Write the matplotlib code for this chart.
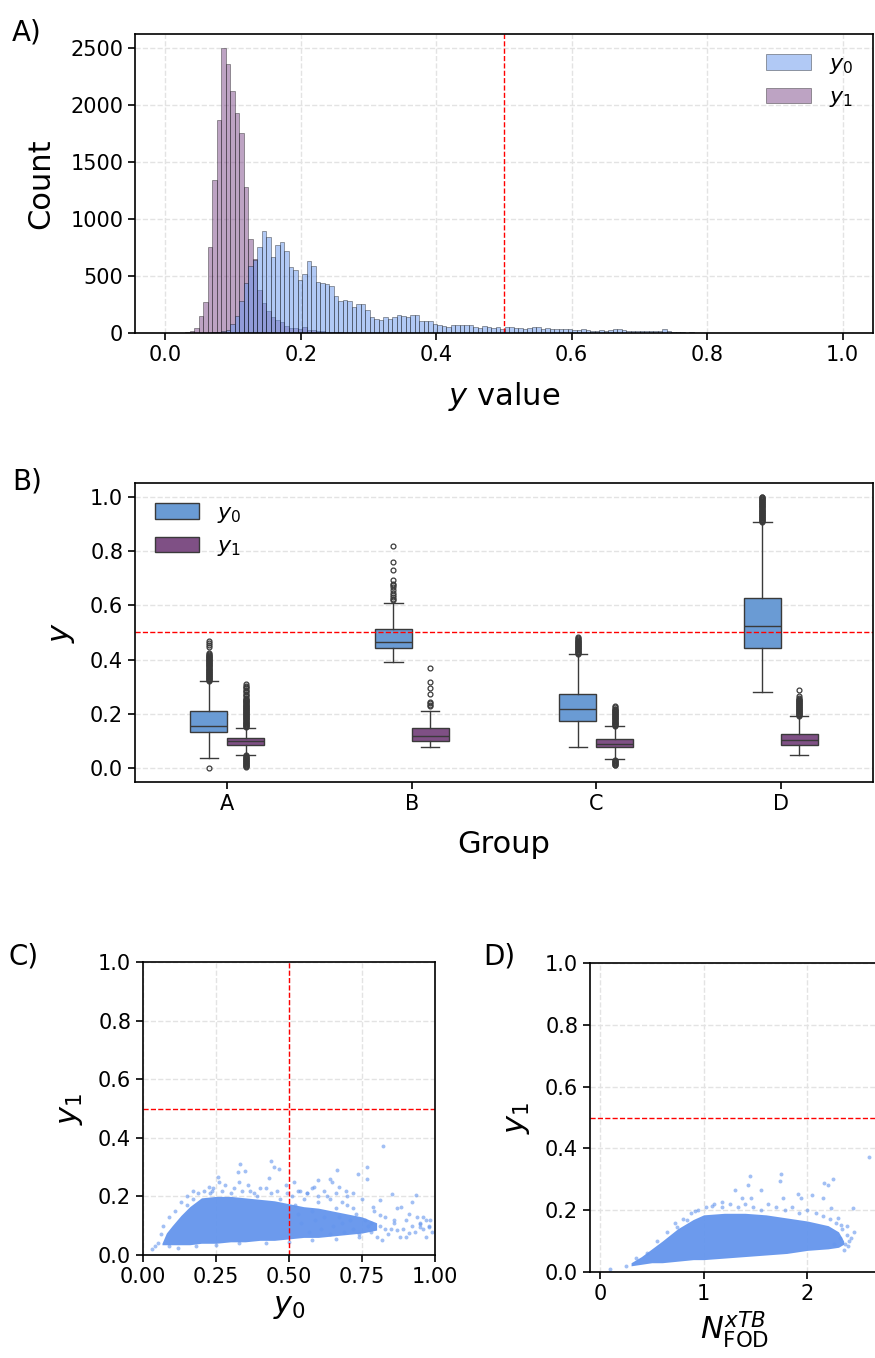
import numpy as np
import matplotlib
matplotlib.use("Agg")
import matplotlib.pyplot as plt
from matplotlib.patches import Patch

# ---------------------------------------------------------------------------
# Panel A: histogram counts (150 common bins)
bin_start = 0.0025
bin_width = 0.00665
y0_counts = [
    0, 0, 0, 0, 0, 0, 0, 0, 0, 0,
    5, 10, 15, 25, 75, 150, 285, 440, 590, 640,
    756, 897, 844, 668, 771, 803, 718, 580, 551, 469,
    522, 633, 586, 452, 440, 430, 410, 325, 279, 287,
    279, 229, 252, 252, 200, 141, 120, 118, 141, 123,
    141, 162, 150, 144, 162, 162, 103, 109, 109, 82,
    70, 62, 53, 67, 67, 67, 73, 67, 53, 47,
    62, 53, 47, 53, 32, 53, 53, 44, 44, 38,
    41, 50, 53, 38, 41, 38, 38, 35, 32, 38,
    23, 26, 32, 23, 20, 18, 22, 20, 25, 32,
    35, 22, 15, 14, 15, 14, 15, 16, 18, 20,
    32, 14, 10, 6, 8, 3, 6, 2, 4, 2,
    3, 1, 2, 0, 1, 2, 0, 1, 2, 1,
    0, 0, 1, 0, 0, 1, 0, 1, 2, 1,
    1, 2, 1, 0, 1, 1, 2, 1, 0, 1,
]
y1_counts = [
    0, 0, 0, 0, 8, 18, 47, 147, 273, 756,
    1342, 1870, 2500, 2362, 2127, 1928, 1753, 1284, 821, 654,
    380, 260, 190, 140, 115, 95, 60, 45, 40, 35,
    55, 30, 25, 18, 14, 10, 8, 6, 5, 4,
    3, 3, 2, 2, 1, 1, 0, 1, 0, 1,
] + [0] * 100

# ---------------------------------------------------------------------------
# Panel B: box statistics per group
groups = ["A", "B", "C", "D"]
y0_box = {
    "A": dict(whislo=0.040, q1=0.134, med=0.157, q3=0.2095, whishi=0.320),
    "B": dict(whislo=0.390, q1=0.443, med=0.464, q3=0.512, whishi=0.609),
    "C": dict(whislo=0.079, q1=0.175, med=0.217, q3=0.275, whishi=0.421),
    "D": dict(whislo=0.280, q1=0.443, med=0.524, q3=0.628, whishi=0.905),
}
y1_box = {
    "A": dict(whislo=0.050, q1=0.085, med=0.099, q3=0.113, whishi=0.150),
    "B": dict(whislo=0.077, q1=0.102, med=0.119, q3=0.150, whishi=0.211),
    "C": dict(whislo=0.034, q1=0.077, med=0.091, q3=0.110, whishi=0.155),
    "D": dict(whislo=0.049, q1=0.085, med=0.105, q3=0.128, whishi=0.191),
}
y0_fliers = {
    "A": [0.0025, 0.3225, 0.325, 0.3275, 0.33, 0.3325, 0.335, 0.3375, 0.34,
          0.3425, 0.345, 0.3475, 0.35, 0.3525, 0.355, 0.3575, 0.36, 0.3625,
          0.365, 0.3675, 0.37, 0.3725, 0.375, 0.3775, 0.38, 0.3825, 0.385,
          0.3875, 0.39, 0.3925, 0.395, 0.3975, 0.40, 0.4025, 0.405, 0.4075,
          0.41, 0.4125, 0.415, 0.4175, 0.42, 0.424, 0.447, 0.455, 0.462, 0.468],
    "B": [0.618, 0.625, 0.632, 0.637, 0.645, 0.655, 0.667, 0.674, 0.680,
          0.694, 0.731, 0.761, 0.817],
    "C": [0.4225, 0.425, 0.4275, 0.43, 0.4325, 0.435, 0.4375, 0.44, 0.4425,
          0.445, 0.4475, 0.45, 0.4525, 0.455, 0.4575, 0.46, 0.4625, 0.465,
          0.4675, 0.47, 0.4725, 0.475, 0.48, 0.485],
    "D": [0.9075, 0.91, 0.9125, 0.915, 0.9175, 0.92, 0.9225, 0.925, 0.9275,
          0.93, 0.9325, 0.935, 0.9375, 0.94, 0.9425, 0.945, 0.9475, 0.95,
          0.9525, 0.955, 0.9575, 0.96, 0.9625, 0.965, 0.9675, 0.97, 0.9725,
          0.975, 0.9775, 0.98, 0.9825, 0.985, 0.9875, 0.99, 0.9925, 0.995,
          0.9975, 1.0],
}
y1_fliers = {
    "A": [0.1525, 0.155, 0.1575, 0.16, 0.1625, 0.165, 0.1675, 0.17, 0.1725,
          0.175, 0.1775, 0.18, 0.1825, 0.185, 0.1875, 0.19, 0.1925, 0.195,
          0.1975, 0.20, 0.2025, 0.205, 0.2075, 0.21, 0.2125, 0.215, 0.2175,
          0.22, 0.2225, 0.225, 0.2275, 0.23, 0.2325, 0.235, 0.2375, 0.24,
          0.2425, 0.245, 0.2475, 0.25, 0.2525, 0.255, 0.26, 0.265, 0.27,
          0.275, 0.28, 0.285, 0.29, 0.295, 0.30, 0.305, 0.31,
          0.0475, 0.045, 0.0425, 0.04, 0.0375, 0.035, 0.0325, 0.03, 0.0275,
          0.025, 0.0225, 0.02, 0.0175, 0.015, 0.0125, 0.01, 0.0075, 0.005],
    "B": [0.229, 0.234, 0.239, 0.244, 0.275, 0.294, 0.318, 0.368],
    "C": [0.1575, 0.16, 0.1625, 0.165, 0.1675, 0.17, 0.1725, 0.175, 0.1775,
          0.18, 0.1825, 0.185, 0.1875, 0.19, 0.1925, 0.195, 0.1975, 0.20,
          0.2025, 0.205, 0.2075, 0.21, 0.2125, 0.215, 0.2175, 0.22, 0.225,
          0.23, 0.0315, 0.029, 0.0265, 0.024, 0.0215, 0.019, 0.0165, 0.014,
          0.012],
    "D": [0.1935, 0.196, 0.1985, 0.201, 0.2035, 0.206, 0.2085, 0.211, 0.2135,
          0.216, 0.2185, 0.221, 0.2235, 0.226, 0.2285, 0.231, 0.2335, 0.236,
          0.2385, 0.241, 0.2435, 0.246, 0.2485, 0.251, 0.2535, 0.256, 0.26,
          0.265, 0.287],
}

# ---------------------------------------------------------------------------
# Panel C: y0 vs y1 (dense core envelope + individual points)
c_core_x = [0.065, 0.08, 0.10, 0.13, 0.16, 0.20, 0.25, 0.30, 0.35, 0.40, 0.45,
            0.50, 0.55, 0.60, 0.65, 0.70, 0.75, 0.80]
c_core_hi = [0.04, 0.075, 0.10, 0.135, 0.165, 0.195, 0.20, 0.20, 0.195, 0.19,
             0.185, 0.175, 0.165, 0.16, 0.15, 0.14, 0.13, 0.11]
c_core_lo = [0.035, 0.035, 0.035, 0.035, 0.035, 0.04, 0.04, 0.045, 0.045,
             0.05, 0.05, 0.055, 0.06, 0.06, 0.065, 0.07, 0.075, 0.085]
c_x = [0.332, 0.326, 0.349, 0.44, 0.45, 0.465, 0.821, 0.766, 0.737, 0.665,
       0.431, 0.26, 0.256, 0.33, 0.518, 0.601, 0.642, 0.648, 0.766, 0.854,
       0.936, 0.922, 0.885, 0.959, 0.982, 0.948, 0.81, 0.787, 0.718, 0.672,
       0.694, 0.584, 0.562, 0.539, 0.493, 0.40, 0.366, 0.226, 0.238,
       0.52, 0.55, 0.58, 0.60, 0.62, 0.63, 0.66, 0.68, 0.70, 0.72, 0.73, 0.75,
       0.76, 0.78, 0.79, 0.81, 0.83, 0.84, 0.86, 0.87, 0.89, 0.90, 0.92, 0.93,
       0.94, 0.95, 0.96, 0.97, 0.98, 0.99, 0.91, 0.88, 0.85, 0.80, 0.77, 0.74,
       0.71, 0.69, 0.67, 0.65, 0.64, 0.61, 0.59, 0.57, 0.54, 0.53,
       0.05, 0.06, 0.07, 0.09, 0.11, 0.13, 0.15, 0.17, 0.04, 0.03,
       0.15, 0.17, 0.19, 0.21, 0.23, 0.24, 0.27, 0.28, 0.30, 0.31, 0.34, 0.36,
       0.38, 0.39, 0.42, 0.44, 0.46, 0.47, 0.49, 0.51, 0.53, 0.56, 0.58, 0.60,
       0.62, 0.64, 0.66, 0.68, 0.70, 0.72,
       0.09, 0.12, 0.18, 0.25, 0.33, 0.42, 0.50, 0.58, 0.66, 0.74, 0.82, 0.90,
       0.97, 0.83, 0.86, 0.91, 0.95, 0.98, 0.78, 0.81, 0.87]
c_y = [0.312, 0.284, 0.287, 0.32, 0.30, 0.295, 0.371, 0.30, 0.278, 0.289,
       0.264, 0.25, 0.266, 0.248, 0.248, 0.255, 0.258, 0.248, 0.258, 0.207,
       0.205, 0.182, 0.165, 0.13, 0.119, 0.096, 0.187, 0.165, 0.21, 0.232,
       0.22, 0.232, 0.21, 0.22, 0.21, 0.227, 0.22, 0.232, 0.22,
       0.17, 0.19, 0.15, 0.18, 0.13, 0.20, 0.16, 0.11, 0.17, 0.09, 0.14, 0.19,
       0.12, 0.08, 0.15, 0.10, 0.13, 0.07, 0.11, 0.16, 0.09, 0.12, 0.10, 0.08,
       0.13, 0.11, 0.09, 0.12, 0.10, 0.08, 0.14, 0.06, 0.09, 0.06, 0.10, 0.07,
       0.12, 0.08, 0.13, 0.10, 0.07, 0.09, 0.12, 0.08, 0.11, 0.14,
       0.04, 0.07, 0.10, 0.13, 0.15, 0.18, 0.20, 0.22, 0.03, 0.02,
       0.17, 0.19, 0.21, 0.22, 0.21, 0.23, 0.22, 0.24, 0.21, 0.23, 0.22, 0.24,
       0.21, 0.20, 0.23, 0.21, 0.22, 0.19, 0.24, 0.20, 0.22, 0.21, 0.23, 0.20,
       0.22, 0.19, 0.21, 0.18, 0.20, 0.16,
       0.03, 0.025, 0.03, 0.035, 0.04, 0.04, 0.045, 0.05, 0.055, 0.06, 0.05,
       0.06, 0.06, 0.09, 0.12, 0.075, 0.105, 0.095, 0.11, 0.135, 0.085]

# Panel D: N_FOD vs y1
d_core_x = [0.30, 0.40, 0.50, 0.60, 0.75, 0.90, 1.00, 1.20, 1.40, 1.60, 1.80,
            2.00, 2.20, 2.30, 2.35]
d_core_hi = [0.03, 0.05, 0.075, 0.10, 0.14, 0.17, 0.185, 0.19, 0.19, 0.185,
             0.175, 0.165, 0.15, 0.13, 0.10]
d_core_lo = [0.02, 0.025, 0.03, 0.03, 0.035, 0.04, 0.04, 0.045, 0.05, 0.055,
             0.06, 0.07, 0.075, 0.08, 0.09]
d_x = [0.739, 0.835, 0.915, 1.076, 1.172, 1.30, 1.365, 1.43, 1.445, 1.461,
       1.551, 1.734, 1.75, 1.766, 1.911, 1.943, 2.04, 2.151, 2.161, 2.20,
       2.23, 2.248, 2.296, 2.328, 2.44, 2.594,
       0.55, 0.65, 0.72, 0.80, 0.88, 0.95, 1.02, 1.10, 1.18, 1.25, 1.33, 1.40,
       1.48, 1.55, 1.62, 1.70, 1.78, 1.85, 1.92, 2.00, 2.08, 2.15, 2.22, 2.28,
       2.33, 2.38, 2.40, 2.36, 0.10, 0.25, 2.42, 2.45, 2.38, 0.35, 0.45, 2.26,
       2.31, 2.35, 2.39]
d_y = [0.147, 0.169, 0.198, 0.212, 0.228, 0.264, 0.239, 0.283, 0.31, 0.24,
       0.264, 0.295, 0.317, 0.239, 0.252, 0.239, 0.25, 0.239, 0.288, 0.28,
       0.207, 0.30, 0.175, 0.153, 0.207, 0.371,
       0.10, 0.13, 0.16, 0.17, 0.19, 0.20, 0.21, 0.22, 0.21, 0.22, 0.21, 0.22,
       0.21, 0.20, 0.22, 0.21, 0.20, 0.21, 0.19, 0.20, 0.19, 0.18, 0.17, 0.16,
       0.14, 0.12, 0.10, 0.09, 0.01, 0.02, 0.11, 0.13, 0.15, 0.045, 0.06, 0.09,
       0.11, 0.07, 0.085]

# ---------------------------------------------------------------------------
blue = "#6495ED"
purple = "#7d4989"
box_blue = "#6a9bd4"
box_purple = "#7f5085"
edge_gray = "#3a3a3a"
grid_kw = dict(color="#e3e3e3", linestyle="--", linewidth=1.0)
red_kw = dict(color="red", linestyle="--", linewidth=1.0)

W, H = 875, 1358
fig = plt.figure(figsize=(W / 100, H / 100), dpi=100)


def px_axes(l, t, r, b):
    return fig.add_axes([l / W, 1 - b / H, (r - l) / W, (b - t) / H])


def style(ax):
    for s in ax.spines.values():
        s.set_linewidth(1.2)
    ax.tick_params(labelsize=15, width=1.2, length=5)
    ax.set_axisbelow(True)


# A) histogram
ax1 = px_axes(135, 34, 873, 333)
edges = bin_start + bin_width * np.arange(len(y0_counts) + 1)
ax1.bar(edges[:-1], y1_counts, width=bin_width, align="edge", color=purple,
        alpha=0.5, edgecolor="black", linewidth=0.5)
ax1.bar(edges[:-1], y0_counts, width=bin_width, align="edge", color=blue,
        alpha=0.5, edgecolor="black", linewidth=0.5)
ax1.axvline(0.5, **red_kw)
ax1.set_xlim(-0.045, 1.045)
ax1.set_ylim(0, 2625)
ax1.set_xticks([0.0, 0.2, 0.4, 0.6, 0.8, 1.0])
ax1.set_yticks([0, 500, 1000, 1500, 2000, 2500])
ax1.grid(**grid_kw)
ax1.set_xlabel(r"$y$ value", fontsize=22, labelpad=11)
ax1.set_ylabel("Count", fontsize=22, labelpad=11)
style(ax1)
ax1.legend(handles=[Patch(facecolor=blue, alpha=0.5, edgecolor="black", linewidth=0.5, label=r"$y_0$"),
                    Patch(facecolor=purple, alpha=0.5, edgecolor="black", linewidth=0.5, label=r"$y_1$")],
           loc="upper right", frameon=False, fontsize=16, handlelength=2.0)

# B) boxplots
ax2 = px_axes(135, 483, 873, 782)
for i, g in enumerate(groups):
    for stats_src, fl_src, off, col in [(y0_box, y0_fliers, -0.1, box_blue),
                                        (y1_box, y1_fliers, 0.1, box_purple)]:
        st = dict(stats_src[g])
        st["fliers"] = fl_src[g]
        ax2.bxp([st], positions=[i + off], widths=0.2, patch_artist=True,
                boxprops=dict(facecolor=col, edgecolor=edge_gray, linewidth=1.0),
                medianprops=dict(color=edge_gray, linewidth=1.0),
                whiskerprops=dict(color=edge_gray, linewidth=1.0),
                capprops=dict(color=edge_gray, linewidth=1.0),
                flierprops=dict(marker="o", markersize=3.5, markerfacecolor="none",
                                markeredgecolor=edge_gray, markeredgewidth=0.9))
ax2.axhline(0.5, **red_kw)
ax2.set_xlim(-0.5, 3.5)
ax2.set_ylim(-0.05, 1.05)
ax2.set_xticks(range(len(groups)))
ax2.set_xticklabels(groups)
ax2.set_yticks([0.0, 0.2, 0.4, 0.6, 0.8, 1.0])
ax2.grid(axis="y", **grid_kw)
ax2.set_xlabel("Group", fontsize=22, labelpad=12)
ax2.set_ylabel(r"$y$", fontsize=22, labelpad=9)
style(ax2)
ax2.legend(handles=[Patch(facecolor=box_blue, edgecolor=edge_gray, label=r"$y_0$"),
                    Patch(facecolor=box_purple, edgecolor=edge_gray, label=r"$y_1$")],
           loc="upper left", frameon=False, fontsize=16, handlelength=2.0)

# C) scatter y0 vs y1
ax3 = px_axes(143, 962, 435, 1255)
ax3.fill_between(c_core_x, c_core_lo, c_core_hi, color=blue, alpha=0.95, linewidth=0)
ax3.scatter(c_x, c_y, s=8, color=blue, alpha=0.6, linewidths=0)
ax3.axhline(0.5, **red_kw)
ax3.axvline(0.5, **red_kw)
ax3.set_xlim(0, 1)
ax3.set_ylim(0, 1)
ax3.set_xticks([0.0, 0.25, 0.5, 0.75, 1.0])
ax3.set_xticklabels(["0.00", "0.25", "0.50", "0.75", "1.00"])
ax3.set_yticks([0.0, 0.2, 0.4, 0.6, 0.8, 1.0])
ax3.grid(**grid_kw)
ax3.set_xlabel(r"$y_0$", fontsize=22)
ax3.set_ylabel(r"$y_1$", fontsize=22, labelpad=9)
style(ax3)

# D) scatter N_FOD vs y1
ax4 = px_axes(590, 963, 880, 1272)
ax4.fill_between(d_core_x, d_core_lo, d_core_hi, color=blue, alpha=0.95, linewidth=0)
ax4.scatter(d_x, d_y, s=8, color=blue, alpha=0.6, linewidths=0)
ax4.axhline(0.5, **red_kw)
ax4.set_xlim(-0.096, 2.7)
ax4.set_ylim(0, 1)
ax4.set_xticks([0, 1, 2])
ax4.set_yticks([0.0, 0.2, 0.4, 0.6, 0.8, 1.0])
ax4.grid(**grid_kw)
ax4.set_xlabel(r"$N_{\mathrm{FOD}}^{xTB}$", fontsize=22)
ax4.set_ylabel(r"$y_1$", fontsize=22, labelpad=9)
style(ax4)

# panel letters
fig.text(12 / W, 1 - 40 / H, "A)", fontsize=20)
fig.text(12 / W, 1 - 489 / H, "B)", fontsize=20)
fig.text(8 / W, 1 - 964 / H, "C)", fontsize=20)
fig.text(483 / W, 1 - 964 / H, "D)", fontsize=20)

fig.savefig("out.png", dpi=100)
